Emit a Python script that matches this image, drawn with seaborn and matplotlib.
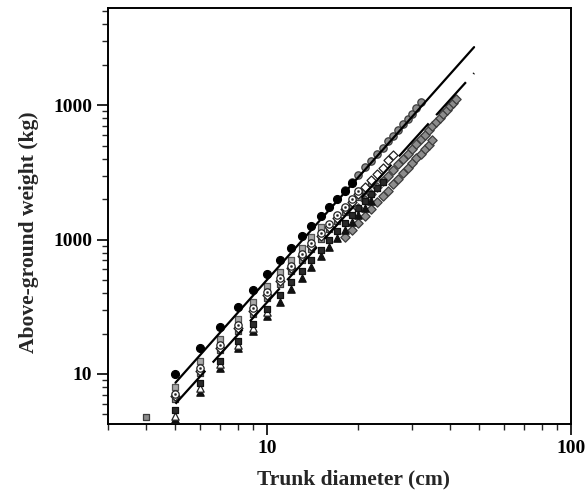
import numpy as np
import pandas as pd
import matplotlib
matplotlib.use("Agg")
import matplotlib.pyplot as plt
import seaborn as sns

# ---------------- data ----------------
black_circle_x = [5, 6, 7, 8, 9, 10, 11, 12, 13, 14, 15, 16, 17, 18, 19]
black_circle_y = [10.0, 15.6, 22.5, 31.5, 42, 55, 70, 87, 106, 127, 150, 175, 202, 232, 264]

gray_circle_x = [18, 19, 20, 21, 22, 23, 24, 25, 26, 27, 28, 29, 30, 31, 32]
gray_circle_y = [234, 268, 305, 345, 388, 435, 485, 538, 595, 655, 720, 790, 865, 950, 1050]

light_square_x = [5, 6, 7, 8, 9, 10, 11, 12, 13, 14, 15]
light_square_y = [8.0, 12.5, 18.2, 25.8, 34.5, 45, 57, 71, 87, 104, 124]

dot_circle_x = [5, 6, 7, 8, 9, 10, 11, 12, 13, 14, 15, 16, 17, 18, 19, 20]
dot_circle_y = [7.1, 11.0, 16.3, 23, 31, 40.5, 51.5, 64, 78, 94, 112, 131, 152, 176, 202, 229]

open_diamond_x = [5, 6, 7, 8, 9, 10, 11, 12, 13, 14, 15, 16, 17, 18, 19, 20, 21, 22, 23, 24, 25, 26]
open_diamond_y = [6.8, 10.6, 15.5, 22, 29.5, 38.5, 49, 61, 75, 90, 107, 125, 146, 168, 192, 218,
                  246, 277, 310, 344, 390, 425]

gray_square_x = [4, 5, 6, 7, 8, 9, 10, 11, 12, 13, 14, 15, 16, 17, 18, 19, 20, 21, 22]
gray_square_y = [4.8, 6.5, 10.1, 15.0, 21, 28, 36.5, 46.5, 58, 70.5, 85, 101, 119, 138, 160, 182,
                 207, 233, 262]

black_square_x = [5, 6, 7, 8, 9, 10, 11, 12, 13, 14, 15, 16, 17, 18, 19, 20, 21, 22, 23, 24]
black_square_y = [5.4, 8.5, 12.5, 17.5, 23.4, 30.5, 38.7, 48, 58.8, 71, 84, 99, 115, 133, 152, 173,
                  195, 218, 244, 270]

black_triangle_x = [5, 6, 7, 8, 9, 10, 11, 12, 13, 14, 15, 16, 17, 18, 19, 20, 21, 22]
black_triangle_y = [4.6, 7.3, 11.0, 15.5, 20.8, 27, 34.5, 43, 52, 63, 75, 88, 102, 118, 135, 153, 173, 194]

open_triangle_x = [5, 6, 7, 8, 9, 10]
open_triangle_y = [4.9, 7.8, 11.8, 16.5, 22, 29]

gray_diamond_hi_x = [20, 21, 22, 23, 24, 25, 26, 27, 28, 29, 30, 31, 32, 33, 34, 35, 36, 37, 38, 39, 40, 41, 42]
gray_diamond_hi_y = [173, 196, 220, 245, 272, 300, 332, 364, 400, 437, 476, 518, 560, 606, 652, 703,
                     755, 810, 865, 925, 985, 1045, 1110]

gray_diamond_lo_x = [18, 19, 20, 21, 22, 23, 24, 25, 26, 27, 28, 29, 30, 31, 32, 33, 34, 35]
gray_diamond_lo_y = [104, 118, 134, 151, 170, 190, 212, 232, 258, 284, 312, 341, 372, 404, 436, 472, 508, 548]

fit_x = [5, 48]
fit_upper_y = [8.6, 2710]
fit_lower_y = [6.0, 1735]

x_ticks = [10, 100]
x_tick_labels = ["10", "100"]
y_ticks = [10, 100, 1000]
y_tick_labels = ["10", "1000", "1000"]

# ---------------- figure ----------------
sns.set_style("white")
plt.rcParams["font.family"] = ["Liberation Serif", "DejaVu Serif"]
plt.rcParams["font.weight"] = "bold"

fig = plt.figure(figsize=(5.85, 4.92), dpi=100)
ax = fig.add_axes([108 / 585, 1 - 424 / 492, (571 - 108) / 585, (424 - 8) / 492])

S = 28
series = [
    (gray_diamond_lo_x, gray_diamond_lo_y, "D", "#8c8c8c", "#3c3c3c", S * 0.8),
    (gray_diamond_hi_x, gray_diamond_hi_y, "D", "#8c8c8c", "#3c3c3c", S * 0.8),
    (gray_circle_x, gray_circle_y, "o", "#8c8c8c", "#3c3c3c", S),
    (black_triangle_x, black_triangle_y, "^", "#111111", "#111111", S),
    (open_triangle_x, open_triangle_y, "^", "white", "#222222", S),
    (black_square_x, black_square_y, "s", "#2a2a2a", "#111111", S * 0.8),
    (gray_square_x, gray_square_y, "s", "#8c8c8c", "#3c3c3c", S * 0.8),
    (open_diamond_x, open_diamond_y, "D", "white", "#222222", S * 0.75),
    (light_square_x, light_square_y, "s", "#a8a8a8", "#555555", S * 0.75),
    (dot_circle_x, dot_circle_y, "o", "white", "#222222", S),
    (black_circle_x, black_circle_y, "o", "black", "black", S * 1.15),
]
for i, (xs, ys, m, fc, ec, s) in enumerate(series):
    sns.scatterplot(x=xs, y=ys, marker=m, color=fc, edgecolor=ec, linewidth=0.9,
                    s=s, ax=ax, zorder=3 + i * 0.1, legend=False)
# dots inside the open circles
sns.scatterplot(x=dot_circle_x, y=dot_circle_y, marker="o", color="#222222",
                edgecolor="#222222", s=3, ax=ax, zorder=4.5, legend=False)

sns.lineplot(x=fit_x, y=fit_upper_y, color="black", linewidth=1.6, ax=ax, zorder=5)
sns.lineplot(x=fit_x, y=fit_lower_y, color="black", linewidth=1.6, ax=ax, zorder=5)
ax.lines[-1].set_dashes([20, 5])

ax.set_xscale("log")
ax.set_yscale("log")
ax.set_xlim(3, 100)
ax.set_ylim(4.24, 5300)

ax.set_xticks(x_ticks)
ax.set_xticklabels(x_tick_labels)
ax.set_yticks(y_ticks)
ax.set_yticklabels(y_tick_labels)
ax.xaxis.set_minor_locator(matplotlib.ticker.LogLocator(base=10, subs=np.arange(2, 10)))
ax.yaxis.set_minor_locator(matplotlib.ticker.LogLocator(base=10, subs=np.arange(2, 10)))
ax.xaxis.set_minor_formatter(matplotlib.ticker.NullFormatter())
ax.yaxis.set_minor_formatter(matplotlib.ticker.NullFormatter())

ax.tick_params(which="major", direction="out", length=8, width=1.2, labelsize=14,
               colors="black", bottom=True, left=True, top=False, right=False)
ax.tick_params(which="minor", direction="out", length=4, width=1.0,
               bottom=True, left=True, top=False, right=False)
for lab in ax.get_xticklabels() + ax.get_yticklabels():
    lab.set_fontweight("bold")

for sp in ax.spines.values():
    sp.set_visible(True)
    sp.set_color("black")
    sp.set_linewidth(1.4)

ax.set_xlabel("Trunk diameter (cm)", fontsize=15.5, fontweight="bold")
ax.set_ylabel("Above-ground weight (kg)", fontsize=15.5, fontweight="bold")
ax.xaxis.set_label_coords(0.531, -0.11)
ax.yaxis.set_label_coords(-0.15, 0.46)

fig.savefig("out.png", dpi=100)
